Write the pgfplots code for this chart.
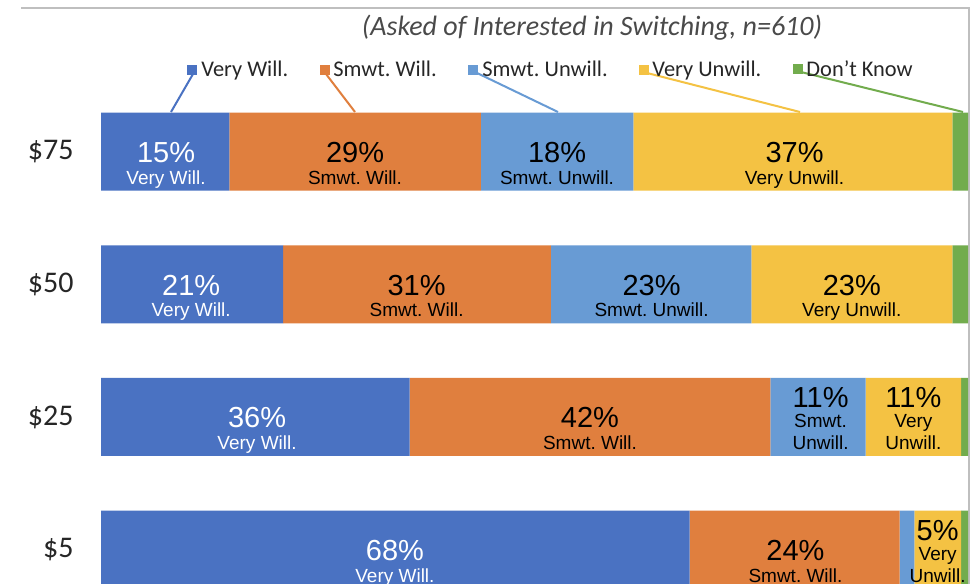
\documentclass[border=0pt]{standalone}
\usepackage{fontspec}
\setmainfont{Carlito}
\newfontfamily\labfont{Liberation Sans}
\usepackage{pgfplots}
\pgfplotsset{compat=1.18}
\definecolor{cA}{HTML}{4A72C2}
\definecolor{cB}{HTML}{E07F3E}
\definecolor{cC}{HTML}{689BD4}
\definecolor{cD}{HTML}{F4C243}
\definecolor{cE}{HTML}{72AC4D}
\definecolor{txtgray}{HTML}{262626}
\definecolor{titlegray}{HTML}{4A4A4A}
\definecolor{framegray}{HTML}{BFBFBF}
\tikzset{
  num/.style={font=\labfont\fontsize{14.5}{16}\selectfont, anchor=base, inner sep=0pt},
  nm/.style={font=\labfont\fontsize{9.5}{11}\selectfont, anchor=base, inner sep=0pt},
  leg/.style={font=\fontsize{11.2}{13}\selectfont, text=txtgray, anchor=base west, inner sep=0pt},
}
\newcommand\lbltwo[4]{%
  \node[num, text=#4, yshift=-5.5pt] at (#1) {#2};
  \node[nm, text=#4, yshift=-16.25pt] at (#1) {#3};}
\newcommand\lblthree[5]{%
  \node[num, text=#5, yshift=4.5pt] at (#1) {#2};
  \node[nm, text=#5, yshift=-5.5pt] at (#1) {#3};
  \node[nm, text=#5, yshift=-16.5pt] at (#1) {#4};}
\begin{document}
\frenchspacing
\begin{tikzpicture}
\path[use as bounding box] (0pt,0pt) rectangle (488.5pt,-291.5pt);
\clip (0pt,0pt) rectangle (488.5pt,-291.5pt);
\fill[white] (0pt,0pt) rectangle (488.5pt,-291.5pt);
\begin{scope}[x=0.5pt,y=-0.5pt]
\draw[framegray, line width=0.8pt] (21,8) -- (969,8) -- (969,590);
\end{scope}
\begin{axis}[
  at={(50.5pt,-308pt)}, anchor=south west,
  scale only axis, width=433.5pt, height=265.4pt,
  xmin=0, xmax=100, ymin=-0.5, ymax=3.5,
  xbar stacked, bar width=39pt,
  axis line style={draw=none},
  xtick=\empty, ytick={0,1,2,3},
  yticklabels={\$5,\$25,\$50,\$75},
  major tick length=0pt,
  yticklabel style={font=\fontsize{15}{17}\selectfont, text=txtgray, inner sep=0pt, xshift=-13.5pt},
  clip=false,
]
\addplot[fill=cA, draw=none] coordinates {(67.9,0) (35.6,1) (21.0,2) (14.8,3)};
\addplot[fill=cB, draw=none] coordinates {(24.2,0) (41.6,1) (30.9,2) (29.0,3)};
\addplot[fill=cC, draw=none] coordinates {(1.7,0) (11.0,1) (23.1,2) (17.6,3)};
\addplot[fill=cD, draw=none] coordinates {(5.4,0) (11.0,1) (23.2,2) (36.8,3)};
\addplot[fill=cE, draw=none] coordinates {(0.8,0) (0.8,1) (1.8,2) (1.8,3)};
% label anchors (segment centres)
\coordinate (La) at (axis cs:7.5,3);
\coordinate (Lb) at (axis cs:29.3,3);
\coordinate (Lc) at (axis cs:52.6,3);
\coordinate (Ld) at (axis cs:80.0,3);
\coordinate (Le) at (axis cs:10.4,2);
\coordinate (Lf) at (axis cs:36.4,2);
\coordinate (Lg) at (axis cs:63.5,2);
\coordinate (Lh) at (axis cs:86.6,2);
\coordinate (Li) at (axis cs:18.0,1);
\coordinate (Lj) at (axis cs:56.4,1);
\coordinate (Lk) at (axis cs:83.0,1);
\coordinate (Ll) at (axis cs:93.7,1);
\coordinate (Lm) at (axis cs:33.9,0);
\coordinate (Ln) at (axis cs:80.1,0);
\coordinate (Lo) at (axis cs:96.5,0);
\end{axis}
% $75
\lbltwo{La}{15\%}{Very Will.}{white}
\lbltwo{Lb}{29\%}{Smwt. Will.}{black}
\lbltwo{Lc}{18\%}{Smwt. Unwill.}{black}
\lbltwo{Ld}{37\%}{Very Unwill.}{black}
% $50
\lbltwo{Le}{21\%}{Very Will.}{white}
\lbltwo{Lf}{31\%}{Smwt. Will.}{black}
\lbltwo{Lg}{23\%}{Smwt. Unwill.}{black}
\lbltwo{Lh}{23\%}{Very Unwill.}{black}
% $25
\lbltwo{Li}{36\%}{Very Will.}{white}
\lbltwo{Lj}{42\%}{Smwt. Will.}{black}
\lblthree{Lk}{11\%}{Smwt.}{Unwill.}{black}
\lblthree{Ll}{11\%}{Very}{Unwill.}{black}
% $5
\lbltwo{Lm}{68\%}{Very Will.}{white}
\lbltwo{Ln}{24\%}{Smwt. Will.}{black}
\lblthree{Lo}{5\%}{Very}{Unwill.}{black}
\begin{scope}[x=0.5pt,y=-0.5pt]
\node[font=\itshape\fontsize{14}{16}\selectfont, text=titlegray, anchor=base, inner sep=0pt] at (592,36) {(Asked of Interested in Switching, n=610)};
\draw[cA, line width=1pt] (193,74) -- (171,112);
\draw[cB, line width=1pt] (326,74) -- (355,112);
\draw[cC, line width=1pt] (477,73) -- (558,112);
\draw[cD, line width=1pt] (647,73) -- (800,112);
\draw[cE, line width=1pt] (801,72) -- (963,112);
\fill[cA] (187,65) rectangle (197,75);
\fill[cB] (320,65) rectangle (330,75);
\fill[cC] (468,65) rectangle (478,75);
\fill[cD] (639,65) rectangle (649,75);
\fill[cE] (793,64) rectangle (803,74);
\node[leg] at (201,76) {Very Will.};
\node[leg] at (333,76) {Smwt. Will.};
\node[leg] at (482,76) {Smwt. Unwill.};
\node[leg] at (652,76) {Very Unwill.};
\node[leg] at (806,76) {Don't Know};
\end{scope}
\end{tikzpicture}
\end{document}
